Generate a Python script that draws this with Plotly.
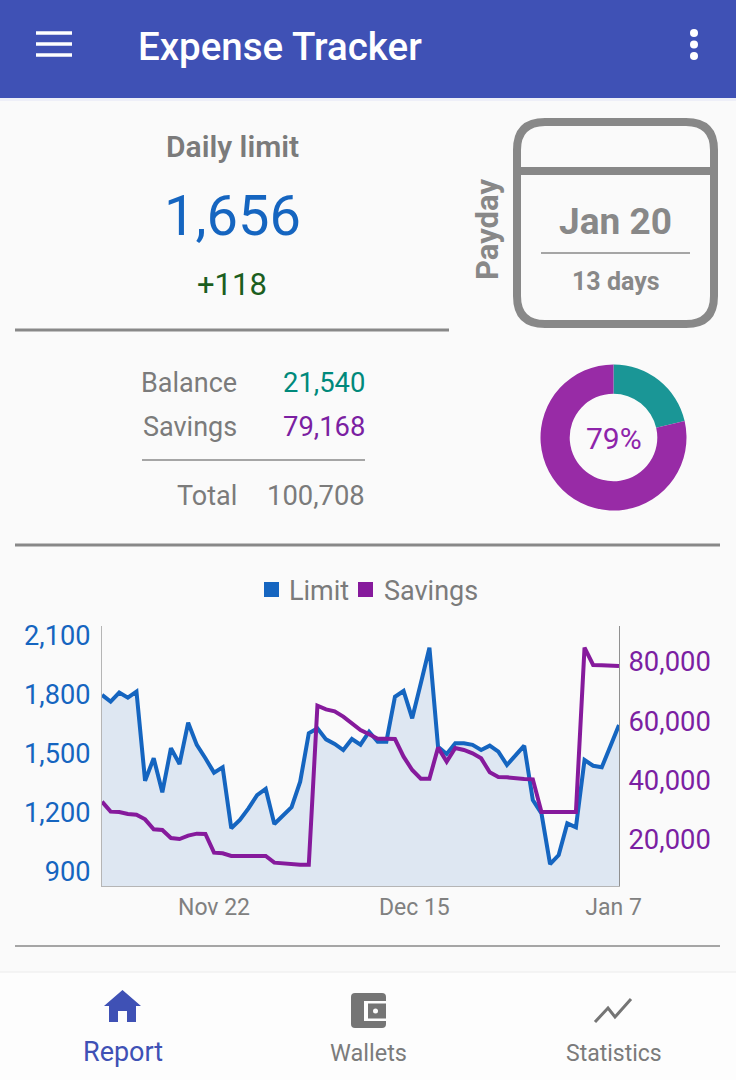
import plotly.graph_objects as go
import pandas as pd

W, H = 736, 1080
FONT = "Roboto"
BLUE = "#1565c0"
PURPLE = "#7b1fa2"
GRAY = "#7b7b7b"
ICON = "#757575"
INDIGO = "#3f51b5"

dates = pd.date_range("2019-11-09", periods=61).strftime("%Y-%m-%d").tolist()
limit = [1800,1766,1812,1786,1817,1364,1478,1305,1529,1449,1659,1546,1478,1405,1432,1122,1164,1223,1291,1322,
         1144,1190,1229,1359,1605,1630,1574,1551,1520,1576,1547,1613,1562,1562,1791,1820,1681,1859,2040,1537,
         1500,1554,1554,1546,1520,1542,1512,1444,1495,1542,1266,1198,940,986,1147,1127,1469,1440,1432,1537,1647]
savings = [32750,29380,29265,28590,28365,26790,23415,23190,20490,20150,21280,21950,21840,15540,15315,14415,14415,
           14415,14415,14415,12165,11940,11490,11490,11490,65150,63915,63240,61440,59190,56940,55480,54015,54015,
           53900,47940,43440,40515,40515,50980,46250,50865,50190,49065,47380,42650,41080,40965,40515,40400,40290,
           29265,29265,29265,29265,29265,84730,78880,78765,78540,78540]
left_ticks = [900, 1200, 1500, 1800, 2100]
right_ticks = [20000, 40000, 60000, 80000]
x_tick_vals = ["2019-11-22", "2019-12-15 06:00", "2020-01-07 09:00"]
x_tick_text = ["Nov 22", "Dec 15", "Jan 7"]
wallet_names = ["Balance", "Savings"]
wallet_values = [21540, 79168]

PX = lambda x: x / W
PY = lambda y: 1 - y / H

fig = go.Figure()
fig.add_trace(go.Scatter(x=dates, y=limit, mode="lines", name="Limit", yaxis="y",
                         line=dict(color=BLUE, width=4), fill="tozeroy",
                         fillcolor="rgba(21,101,192,0.12)", showlegend=False))
fig.add_trace(go.Scatter(x=dates, y=savings, mode="lines", name="Savings", yaxis="y2",
                         line=dict(color="#861a9c", width=4), showlegend=False))
fig.add_trace(go.Pie(labels=wallet_names, values=wallet_values, sort=False, direction="clockwise", rotation=0,
                     hole=0.6, textinfo="none", showlegend=False,
                     marker=dict(colors=["#1a9696", "#982ba6"], line=dict(width=0)),
                     domain=dict(x=[PX(540.5), PX(686.5)], y=[PY(510.5), PY(364.5)])))

ann = []
def text(t, x, y, size, color, anchor="center", weight=400, angle=0):
    ann.append(dict(text=t, x=PX(x), y=PY(y), xref="paper", yref="paper", showarrow=False,
                    xanchor=anchor, yanchor="middle", textangle=angle,
                    font=dict(family=FONT, size=size, color=color, weight=weight)))

shapes = []
def rect(x0, y0, x1, y1, fill, layer="above"):
    shapes.append(dict(type="rect", xref="paper", yref="paper", x0=PX(x0), x1=PX(x1), y0=PY(y0), y1=PY(y1),
                       fillcolor=fill, line=dict(width=0), layer=layer))
def hline(x0, x1, y, color, w):
    shapes.append(dict(type="line", xref="paper", yref="paper", x0=PX(x0), x1=PX(x1), y0=PY(y), y1=PY(y),
                       line=dict(color=color, width=w)))
def circle(cx, cy, r, fill):
    shapes.append(dict(type="circle", xref="paper", yref="paper", x0=PX(cx - r), x1=PX(cx + r),
                       y0=PY(cy - r), y1=PY(cy + r), fillcolor=fill, line=dict(width=0)))
def path(cmds, fill=None, line=None, lw=0):
    s = ""
    for c in cmds:
        if c == "Z":
            s += " Z"
        else:
            s += f" {c[0]} {PX(c[1]):.5f} {PY(c[2]):.5f}"
    shapes.append(dict(type="path", xref="paper", yref="paper", path=s.strip(), fillcolor=fill or "rgba(0,0,0,0)",
                       line=dict(color=line or "rgba(0,0,0,0)", width=lw)))
def rounded(x0, y0, x1, y1, r):
    fx, fy = PX, PY
    return (f"M {fx(x0+r)} {fy(y0)} L {fx(x1-r)} {fy(y0)} Q {fx(x1)} {fy(y0)} {fx(x1)} {fy(y0+r)} "
            f"L {fx(x1)} {fy(y1-r)} Q {fx(x1)} {fy(y1)} {fx(x1-r)} {fy(y1)} "
            f"L {fx(x0+r)} {fy(y1)} Q {fx(x0)} {fy(y1)} {fx(x0)} {fy(y1-r)} "
            f"L {fx(x0)} {fy(y0+r)} Q {fx(x0)} {fy(y0)} {fx(x0+r)} {fy(y0)} Z")

# app chrome
rect(0, 0, 736, 98, INDIGO, "below")
rect(0, 98, 736, 101, "#eeeff8", "below")
rect(0, 972, 736, 1080, "#fdfdfd", "below")
hline(0, 736, 972, "#f1f1f1", 1.5)
for y in (33, 44, 55):
    hline(36, 72, y, "#ffffff", 3.4)
for y in (33, 44.5, 56):
    circle(694, y, 4, "#ffffff")
text("Expense Tracker", 136, 47, 38.5, "#ffffff", "left", 500)

# daily limit
text("Daily limit", 232.5, 147, 30, GRAY, weight=600)
text("1,656", 232, 216, 56, BLUE)
text("+118", 231.5, 285, 31, "#1b5e20")
hline(15, 449, 330, "#888888", 3)

# payday card
shapes.append(dict(type="path", xref="paper", yref="paper", path=rounded(517, 122, 714, 324, 28),
                   line=dict(color="#888888", width=8), fillcolor="rgba(0,0,0,0)"))
hline(517, 714, 171, "#888888", 8)
hline(541, 690, 253, "#888888", 1.5)
text("Jan 20", 615.5, 222, 37, "#888888", weight=700)
text("13 days", 616, 281, 25, "#888888", weight=700)
text("Payday", 487, 230, 31, "#888888", weight=700, angle=-90)

# wallets
text(wallet_names[0], 239, 383, 27, GRAY, "right")
text(f"{wallet_values[0]:,}", 367, 383, 27.4, "#00897b", "right")
text(wallet_names[1], 239, 427, 27, GRAY, "right")
text(f"{wallet_values[1]:,}", 367, 427, 27.4, PURPLE, "right")
hline(142, 365, 460, "#888888", 1.5)
text("Total", 239, 496, 27, GRAY, "right")
text(f"{sum(wallet_values):,}", 367, 496, 27.4, GRAY, "right")
text("79%", 614, 438, 30, "#8e24aa")
hline(15, 720, 545, "#888888", 3)
hline(15, 720, 946, "#888888", 1.5)

# chart legend
rect(264, 582, 279, 597, BLUE)
text("Limit", 287, 591, 27, GRAY, "left")
rect(358, 582, 373, 597, "#861a9c")
text("Savings", 382, 591, 27, GRAY, "left")

# bottom nav
path([("M", 122.5, 990), ("L", 141, 1006), ("L", 136, 1006), ("L", 136, 1022), ("L", 127, 1022), ("L", 127, 1011),
      ("L", 118, 1011), ("L", 118, 1022), ("L", 109, 1022), ("L", 109, 1006), ("L", 104, 1006), "Z"], fill=INDIGO)
shapes.append(dict(type="path", xref="paper", yref="paper", path=rounded(351, 993, 386, 1028, 4),
                   fillcolor=ICON, line=dict(width=0)))
rect(364, 1001, 386, 1021, "#fdfdfd")
rect(368, 1003.5, 386, 1018.5, ICON)
circle(375.5, 1011, 2.5, "#fdfdfd")
path([("M", 595, 1022), ("L", 608, 1008), ("L", 615, 1017), ("L", 631, 999)], line=ICON, lw=3)
text("Report", 122.5, 1052, 27, INDIGO)
text("Wallets", 368, 1053, 23.5, GRAY)
text("Statistics", 613.5, 1053, 23, GRAY)

fig.update_layout(
    width=W, height=H, autosize=False, margin=dict(l=0, r=0, t=0, b=0, pad=0, autoexpand=False),
    paper_bgcolor="#fafafa", plot_bgcolor="rgba(0,0,0,0)", showlegend=False,
    font=dict(family=FONT), annotations=ann, shapes=shapes,
    xaxis=dict(domain=[PX(102), PX(619)], range=["2019-11-09", "2020-01-08"], type="date",
               tickvals=x_tick_vals, ticktext=x_tick_text, showgrid=False, zeroline=False,
               showline=True, linecolor="#b5b5b5", linewidth=1, ticks="",
               tickfont=dict(family=FONT, size=23, color="#808080")),
    yaxis=dict(domain=[PY(886), PY(626)], range=[828.5, 2150.6], tickvals=left_ticks, tickformat=",",
               showgrid=False, zeroline=False, showline=True, linecolor="#b5b5b5", linewidth=1,
               ticks="outside", ticklen=5, tickcolor="rgba(0,0,0,0)",
               tickfont=dict(family=FONT, size=27.2, color=BLUE)),
    yaxis2=dict(domain=[PY(886), PY(626)], range=[4290, 92040], overlaying="y", side="right", anchor="x",
                tickvals=right_ticks, tickformat=",", showgrid=False, zeroline=False, showline=True,
                linecolor="#909090", linewidth=1, ticks="outside", ticklen=3, tickcolor="rgba(0,0,0,0)",
                tickfont=dict(family=FONT, size=27.4, color=PURPLE)),
)
fig.write_html("out.html", config=dict(displayModeBar=False),
               post_script="document.body.style.margin='0';")
